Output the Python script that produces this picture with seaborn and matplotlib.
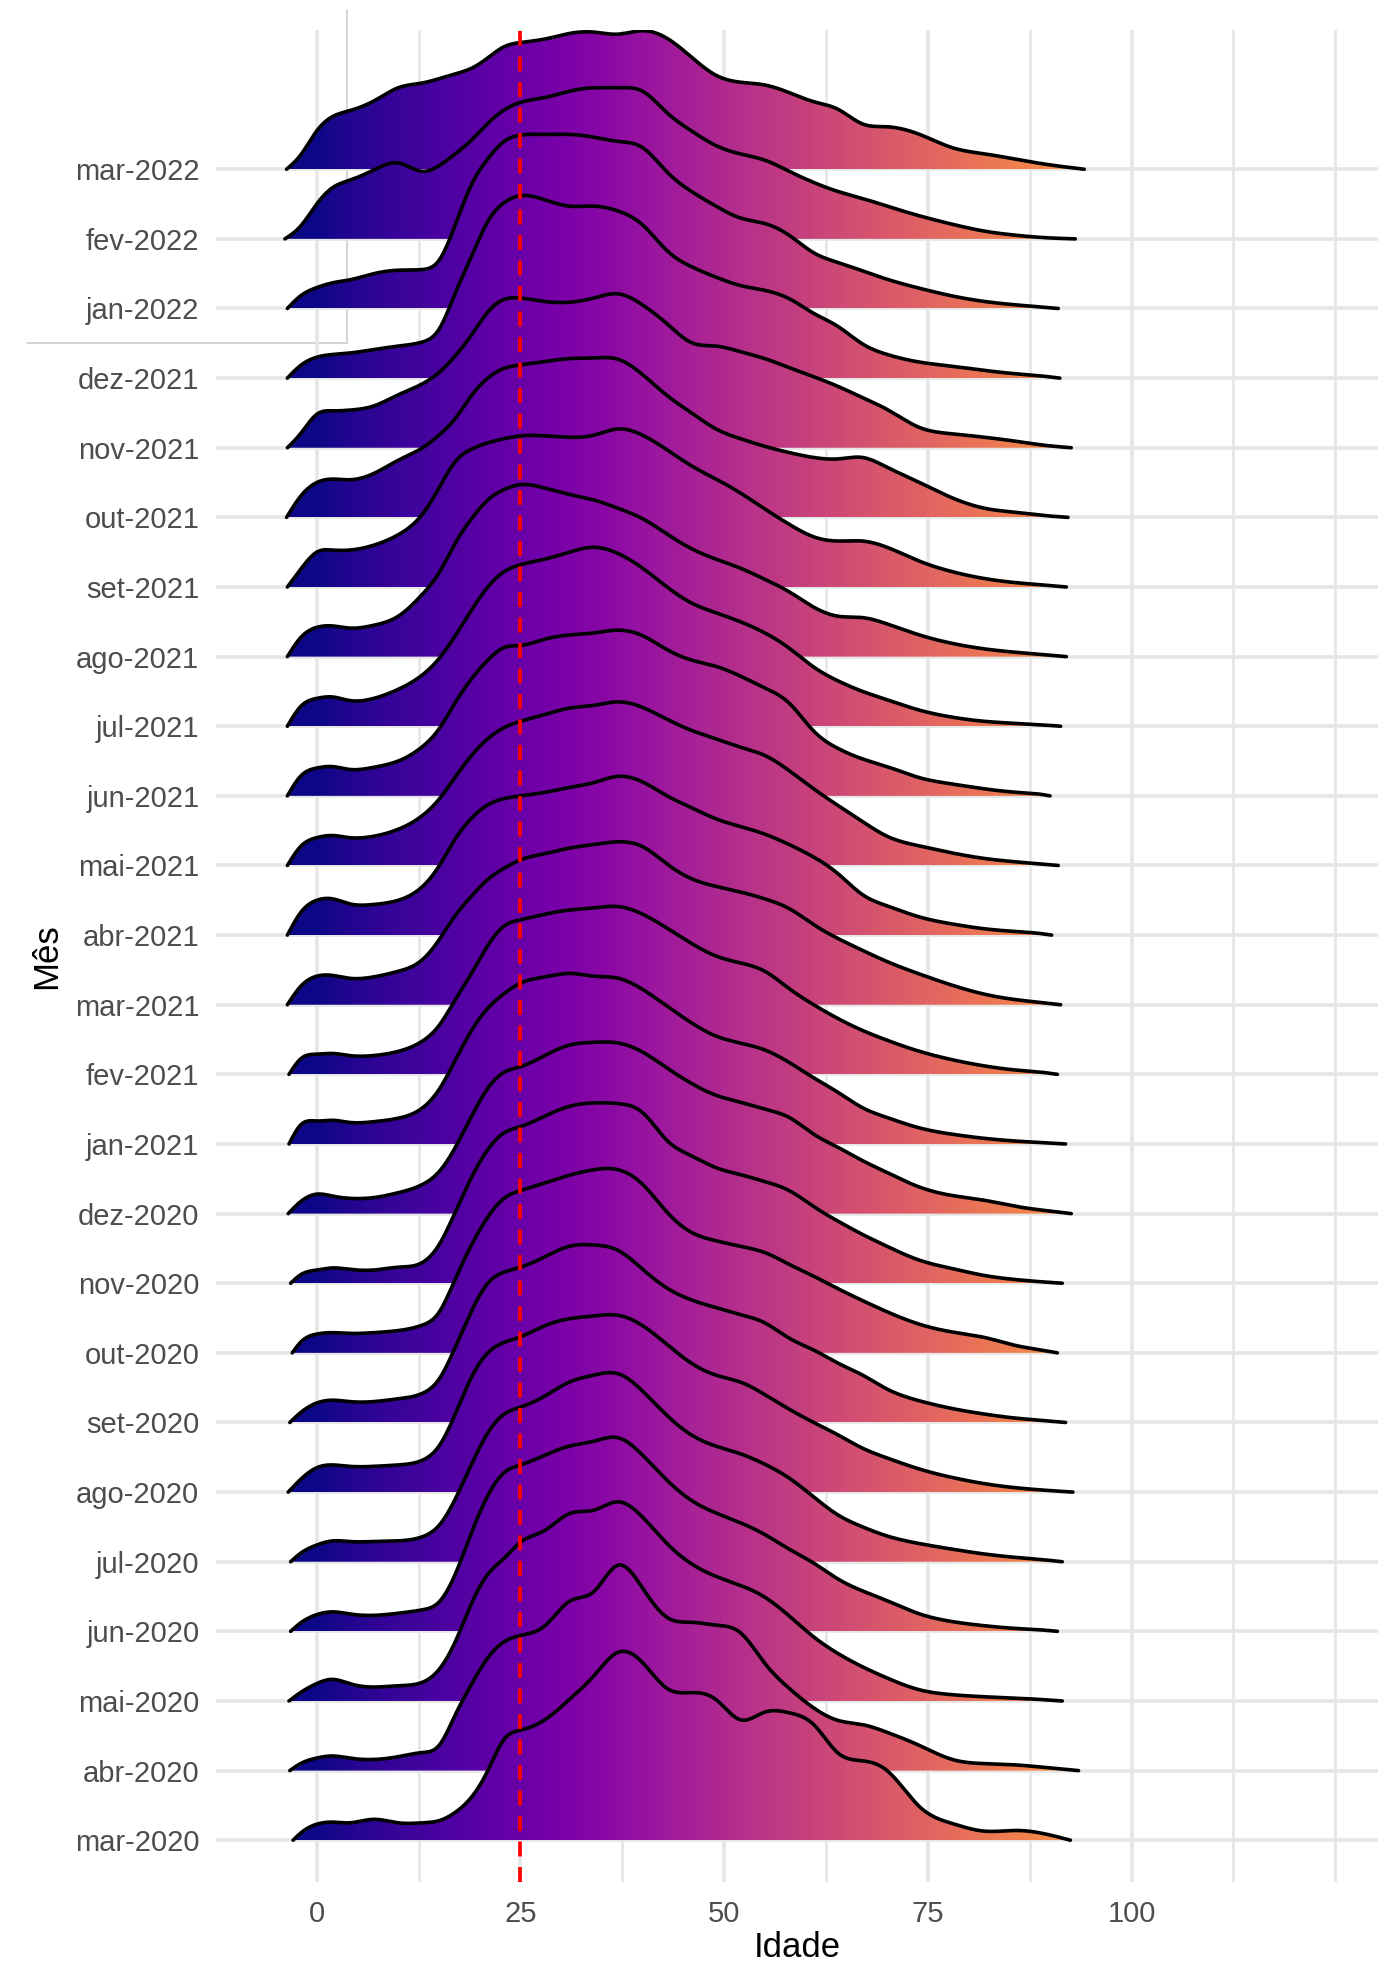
import numpy as np
import pandas as pd
import matplotlib
matplotlib.use("Agg")
import matplotlib.pyplot as plt
import seaborn as sns
from matplotlib.patches import Polygon
from matplotlib.colors import Normalize
from matplotlib.lines import Line2D

# ---------------- data ----------------
months = ["mar-2020", "abr-2020", "mai-2020", "jun-2020", "jul-2020", "ago-2020",
          "set-2020", "out-2020", "nov-2020", "dez-2020", "jan-2021", "fev-2021",
          "mar-2021", "abr-2021", "mai-2021", "jun-2021", "jul-2021", "ago-2021",
          "set-2021", "out-2021", "nov-2021", "dez-2021", "jan-2022", "fev-2022",
          "mar-2022"]

# ages at which ridge heights were read
age_grid = [-2, 0, 2, 4, 7, 10, 13, 15, 17, 19, 21, 23, 25, 28, 31, 34, 37, 40, 43,
            46, 49, 52, 55, 58, 61, 64, 67, 70, 74, 78, 82, 86, 89]

# first / last age of each ridge (same order as months)
age_min = [-2.9, -3.3, -3.4, -3.2, -3.2, -3.5, -3.3, -3.0, -3.2, -3.5, -3.4, -3.4,
           -3.6, -3.6, -3.6, -3.6, -3.6, -3.6, -3.6, -3.7, -3.6, -3.6, -3.6, -3.9, -3.7]
age_max = [92.5, 93.5, 91.5, 90.9, 91.5, 92.8, 91.9, 90.9, 91.5, 92.6, 91.9, 90.9,
           91.3, 90.2, 91.0, 90.0, 91.3, 92.0, 92.0, 92.2, 92.6, 91.2, 91.0, 93.1, 94.2]

# ridge heights (in row units) at age_grid
dens_mar2020 = [0.10, 0.23, 0.26, 0.25, 0.30, 0.25, 0.25, 0.28, 0.40, 0.62, 1.00, 1.45, 1.58, 1.73, 2.02, 2.36, 2.70, 2.55, 2.18, 2.12, 2.02, 1.73, 1.84, 1.83, 1.66, 1.25, 1.14, 1.00, 0.48, 0.24, 0.13, 0.14, 0.10]
dens_abr2020 = [0.10, 0.18, 0.21, 0.18, 0.16, 0.20, 0.26, 0.36, 0.80, 1.24, 1.62, 1.85, 1.94, 2.08, 2.43, 2.57, 2.95, 2.62, 2.20, 2.13, 2.09, 1.98, 1.54, 1.18, 0.90, 0.72, 0.66, 0.55, 0.36, 0.16, 0.10, 0.08, 0.05]
dens_mai2020 = [0.12, 0.25, 0.31, 0.25, 0.20, 0.22, 0.27, 0.45, 0.85, 1.40, 1.82, 2.05, 2.28, 2.45, 2.69, 2.74, 2.86, 2.64, 2.26, 1.97, 1.79, 1.66, 1.49, 1.22, 0.92, 0.68, 0.49, 0.33, 0.16, 0.09, 0.06, 0.04, 0.02]
dens_jun2020 = [0.12, 0.24, 0.28, 0.25, 0.23, 0.26, 0.31, 0.42, 0.82, 1.42, 1.95, 2.28, 2.39, 2.53, 2.66, 2.73, 2.78, 2.53, 2.17, 1.88, 1.70, 1.56, 1.39, 1.18, 0.98, 0.75, 0.58, 0.44, 0.25, 0.14, 0.08, 0.04, 0.02]
dens_jul2020 = [0.12, 0.24, 0.30, 0.29, 0.29, 0.30, 0.36, 0.52, 0.90, 1.40, 1.85, 2.12, 2.22, 2.38, 2.58, 2.68, 2.70, 2.45, 2.10, 1.82, 1.66, 1.55, 1.40, 1.20, 0.93, 0.67, 0.50, 0.37, 0.26, 0.18, 0.11, 0.06, 0.03]
dens_ago2020 = [0.18, 0.35, 0.39, 0.37, 0.37, 0.39, 0.46, 0.66, 1.12, 1.65, 2.00, 2.15, 2.23, 2.39, 2.49, 2.53, 2.54, 2.39, 2.12, 1.85, 1.68, 1.58, 1.40, 1.19, 1.00, 0.82, 0.63, 0.49, 0.33, 0.21, 0.12, 0.06, 0.03]
dens_set2020 = [0.14, 0.28, 0.32, 0.30, 0.30, 0.34, 0.42, 0.62, 1.08, 1.60, 2.00, 2.16, 2.23, 2.38, 2.53, 2.55, 2.47, 2.20, 1.93, 1.76, 1.65, 1.55, 1.43, 1.21, 1.04, 0.85, 0.68, 0.48, 0.31, 0.20, 0.12, 0.06, 0.03]
dens_out2020 = [0.15, 0.27, 0.29, 0.28, 0.29, 0.32, 0.40, 0.58, 1.06, 1.55, 1.95, 2.22, 2.33, 2.44, 2.55, 2.63, 2.63, 2.42, 2.02, 1.73, 1.61, 1.53, 1.44, 1.27, 1.10, 0.92, 0.75, 0.59, 0.41, 0.30, 0.22, 0.10, 0.04]
dens_nov2020 = [0.12, 0.19, 0.22, 0.20, 0.19, 0.23, 0.30, 0.55, 1.02, 1.52, 1.92, 2.16, 2.25, 2.40, 2.54, 2.59, 2.58, 2.45, 2.05, 1.83, 1.66, 1.56, 1.46, 1.33, 1.10, 0.89, 0.70, 0.53, 0.33, 0.21, 0.11, 0.05, 0.02]
dens_dez2020 = [0.17, 0.28, 0.25, 0.22, 0.23, 0.30, 0.42, 0.60, 0.95, 1.40, 1.80, 2.03, 2.11, 2.27, 2.42, 2.46, 2.45, 2.32, 2.09, 1.87, 1.70, 1.60, 1.50, 1.38, 1.14, 0.95, 0.76, 0.59, 0.38, 0.26, 0.19, 0.10, 0.05]
dens_jan2021 = [0.27, 0.33, 0.34, 0.31, 0.32, 0.37, 0.52, 0.78, 1.20, 1.63, 1.95, 2.16, 2.31, 2.40, 2.45, 2.41, 2.38, 2.22, 1.98, 1.74, 1.55, 1.45, 1.35, 1.17, 0.95, 0.74, 0.52, 0.38, 0.23, 0.14, 0.08, 0.04, 0.02]
dens_fev2021 = [0.22, 0.29, 0.30, 0.27, 0.27, 0.33, 0.48, 0.70, 1.07, 1.45, 1.85, 2.13, 2.22, 2.30, 2.36, 2.39, 2.41, 2.30, 2.10, 1.88, 1.70, 1.60, 1.48, 1.23, 1.00, 0.80, 0.63, 0.49, 0.33, 0.21, 0.12, 0.06, 0.03]
dens_mar2021 = [0.26, 0.41, 0.42, 0.38, 0.40, 0.48, 0.65, 0.93, 1.28, 1.56, 1.80, 1.96, 2.08, 2.17, 2.25, 2.30, 2.34, 2.27, 2.02, 1.81, 1.70, 1.62, 1.52, 1.38, 1.15, 0.95, 0.78, 0.62, 0.44, 0.28, 0.15, 0.07, 0.03]
dens_abr2021 = [0.32, 0.50, 0.52, 0.45, 0.44, 0.50, 0.70, 0.99, 1.38, 1.68, 1.87, 1.96, 2.00, 2.05, 2.12, 2.19, 2.28, 2.20, 2.00, 1.83, 1.67, 1.56, 1.45, 1.30, 1.12, 0.88, 0.58, 0.42, 0.26, 0.16, 0.09, 0.05, 0.02]
dens_mai2021 = [0.27, 0.40, 0.43, 0.40, 0.42, 0.52, 0.72, 0.95, 1.27, 1.58, 1.82, 1.98, 2.07, 2.17, 2.26, 2.30, 2.35, 2.27, 2.10, 1.94, 1.82, 1.70, 1.58, 1.36, 1.10, 0.86, 0.63, 0.42, 0.28, 0.18, 0.10, 0.05, 0.02]
dens_jun2021 = [0.28, 0.40, 0.42, 0.38, 0.41, 0.50, 0.71, 0.96, 1.34, 1.68, 1.95, 2.13, 2.16, 2.25, 2.31, 2.34, 2.38, 2.30, 2.10, 1.95, 1.86, 1.72, 1.55, 1.33, 0.93, 0.68, 0.53, 0.42, 0.26, 0.17, 0.10, 0.05, 0.02]
dens_jul2021 = [0.28, 0.40, 0.42, 0.37, 0.40, 0.53, 0.74, 0.97, 1.30, 1.67, 2.00, 2.22, 2.32, 2.40, 2.50, 2.57, 2.48, 2.27, 2.00, 1.77, 1.63, 1.50, 1.34, 1.12, 0.85, 0.65, 0.50, 0.38, 0.23, 0.13, 0.07, 0.04, 0.02]
dens_ago2021 = [0.27, 0.42, 0.44, 0.41, 0.45, 0.58, 0.90, 1.20, 1.63, 1.98, 2.25, 2.40, 2.47, 2.42, 2.33, 2.25, 2.13, 1.98, 1.76, 1.55, 1.40, 1.27, 1.11, 0.93, 0.71, 0.58, 0.56, 0.47, 0.31, 0.19, 0.11, 0.06, 0.03]
dens_set2021 = [0.25, 0.50, 0.53, 0.53, 0.60, 0.75, 1.05, 1.42, 1.80, 1.98, 2.07, 2.13, 2.17, 2.17, 2.15, 2.18, 2.27, 2.18, 1.97, 1.74, 1.55, 1.35, 1.12, 0.90, 0.72, 0.66, 0.66, 0.57, 0.37, 0.22, 0.12, 0.06, 0.03]
dens_out2021 = [0.30, 0.50, 0.55, 0.54, 0.63, 0.82, 1.00, 1.18, 1.42, 1.75, 2.00, 2.14, 2.19, 2.24, 2.28, 2.29, 2.27, 2.05, 1.75, 1.50, 1.27, 1.13, 1.02, 0.93, 0.86, 0.84, 0.86, 0.72, 0.50, 0.28, 0.13, 0.07, 0.03]
dens_nov2021 = [0.20, 0.48, 0.53, 0.54, 0.60, 0.76, 0.92, 1.08, 1.32, 1.62, 1.95, 2.13, 2.15, 2.10, 2.09, 2.15, 2.21, 2.05, 1.78, 1.51, 1.46, 1.38, 1.28, 1.15, 1.02, 0.88, 0.72, 0.55, 0.29, 0.20, 0.15, 0.09, 0.04]
dens_dez2021 = [0.18, 0.30, 0.34, 0.36, 0.41, 0.46, 0.52, 0.70, 1.22, 1.75, 2.25, 2.52, 2.62, 2.56, 2.47, 2.47, 2.40, 2.20, 1.83, 1.60, 1.45, 1.33, 1.26, 1.14, 0.93, 0.74, 0.49, 0.34, 0.23, 0.17, 0.11, 0.06, 0.03]
dens_jan2022 = [0.18, 0.30, 0.37, 0.41, 0.50, 0.55, 0.56, 0.69, 1.20, 1.78, 2.15, 2.40, 2.49, 2.50, 2.50, 2.46, 2.40, 2.31, 1.96, 1.68, 1.47, 1.30, 1.22, 1.05, 0.80, 0.66, 0.54, 0.42, 0.29, 0.18, 0.10, 0.05, 0.02]
dens_fev2022 = [0.18, 0.50, 0.74, 0.84, 0.99, 1.09, 0.97, 1.05, 1.22, 1.42, 1.66, 1.85, 1.96, 2.03, 2.12, 2.17, 2.17, 2.12, 1.81, 1.55, 1.34, 1.22, 1.13, 0.97, 0.81, 0.68, 0.58, 0.47, 0.33, 0.21, 0.11, 0.05, 0.02]
dens_mar2022 = [0.20, 0.55, 0.76, 0.84, 0.98, 1.17, 1.24, 1.30, 1.37, 1.45, 1.60, 1.76, 1.82, 1.87, 1.95, 1.97, 1.94, 1.99, 1.88, 1.61, 1.35, 1.25, 1.21, 1.10, 0.97, 0.86, 0.65, 0.61, 0.50, 0.31, 0.22, 0.14, 0.08]

x_breaks = [0, 25, 50, 75, 100]
x_minor = [12.5, 37.5, 62.5, 87.5, 112.5, 125]
ref_age = 25
x_label = "Idade"
y_label = "Mês"

densities = [dens_mar2020, dens_abr2020, dens_mai2020, dens_jun2020, dens_jul2020,
             dens_ago2020, dens_set2020, dens_out2020, dens_nov2020, dens_dez2020,
             dens_jan2021, dens_fev2021, dens_mar2021, dens_abr2021, dens_mai2021,
             dens_jun2021, dens_jul2021, dens_ago2021, dens_set2021, dens_out2021,
             dens_nov2021, dens_dez2021, dens_jan2022, dens_fev2022, dens_mar2022]


def smooth_path(xk, yk, xq):
    """natural cubic spline through the read points (drawing only)"""
    x = np.asarray(xk, float)
    y = np.asarray(yk, float)
    nk = len(x)
    h = np.diff(x)
    A = np.zeros((nk, nk))
    b = np.zeros(nk)
    A[0, 0] = 1.0
    A[-1, -1] = 1.0
    for i in range(1, nk - 1):
        A[i, i - 1] = h[i - 1]
        A[i, i] = 2 * (h[i - 1] + h[i])
        A[i, i + 1] = h[i]
        b[i] = 6 * ((y[i + 1] - y[i]) / h[i] - (y[i] - y[i - 1]) / h[i - 1])
    M = np.linalg.solve(A, b)
    i = np.clip(np.searchsorted(x, xq, side="right") - 1, 0, nk - 2)
    hi = h[i]
    a = x[i + 1] - xq
    c = xq - x[i]
    return (M[i] * a**3 / (6 * hi) + M[i + 1] * c**3 / (6 * hi)
            + (y[i] / hi - M[i] * hi / 6) * a + (y[i + 1] / hi - M[i + 1] * hi / 6) * c)


# ---------------- style ----------------
sns.set_theme(style="whitegrid")
plt.rcParams["font.family"] = ["Liberation Sans", "DejaVu Sans"]

W, H = 1378, 1963
fig = plt.figure(figsize=(W / 100, H / 100), dpi=100, facecolor="white")
pl, pr, pt, pb = 216, 1378, 30, 1882
ax = fig.add_axes([pl / W, 1 - pb / H, (pr - pl) / W, (pb - pt) / H])
ax.patch.set_alpha(0)

# stray panel corner visible in the reference (top-left)
fig.add_artist(Line2D([347 / W, 347 / W], [1 - 10 / H, 1 - 343 / H], color="#D4D4D4",
                      lw=1.4, zorder=-1))
fig.add_artist(Line2D([27 / W, 347 / W], [1 - 343 / H, 1 - 343 / H], color="#D4D4D4",
                      lw=1.4, zorder=-1))

norm = Normalize(0, 125)
grad = np.linspace(-5, 130, 900)[None, :]

n = len(months)
for r in range(n - 1, -1, -1):
    z = 10 + 2 * (n - 1 - r)
    xk = [age_min[r]] + age_grid + [age_max[r]]
    yk = [0.0] + densities[r] + [0.0]
    xs = np.linspace(age_min[r], age_max[r], 900)
    ys = np.clip(smooth_path(xk, yk, xs), 0, None)
    base = r
    verts = np.column_stack([np.r_[xs, xs[-1], xs[0]], np.r_[base + ys, base, base]])
    patch = Polygon(verts, closed=True, facecolor="none", edgecolor="none", zorder=z)
    ax.add_patch(patch)
    im = ax.imshow(grad, extent=[-5, 130, base, base + 3.3], cmap="plasma", norm=norm,
                   aspect="auto", origin="lower", interpolation="bilinear", zorder=z)
    im.set_clip_path(patch)
    sns.lineplot(x=xs, y=base + ys, ax=ax, color="black", linewidth=2.6, sort=False,
                 estimator=None, zorder=z + 1)

ax.axvline(ref_age, color="red", lw=2.7, dashes=(4.0, 2.8), zorder=200)

ax.set_xlim(-12.36, 130.25)
ax.set_ylim(-0.60, 26.0)
ax.set_xticks(x_breaks)
ax.set_xticklabels([str(v) for v in x_breaks])
ax.set_xticks(x_minor, minor=True)
ax.set_yticks(range(n))
ax.set_yticklabels(months)

ax.set_axisbelow(True)
ax.grid(which="major", axis="both", color="#E6E6E6", linewidth=2.6)
ax.grid(which="minor", axis="x", color="#E8E8E8", linewidth=2.1)
for s in ax.spines.values():
    s.set_visible(False)
ax.tick_params(axis="both", which="both", length=0, labelsize=21, labelcolor="#4D4D4D")
ax.tick_params(axis="x", pad=13)
ax.tick_params(axis="y", pad=12)

ax.set_xlabel(x_label, fontsize=25, color="black")
ax.set_ylabel(y_label, fontsize=25, color="black")
ax.xaxis.set_label_coords(0.5, -0.0262)
ax.xaxis.label.set_va("top")
ax.yaxis.label.set_va("center")
ax.yaxis.set_label_coords((47 - pl) / (pr - pl), 0.5)

fig.savefig("out.png", dpi=100, facecolor="white")
